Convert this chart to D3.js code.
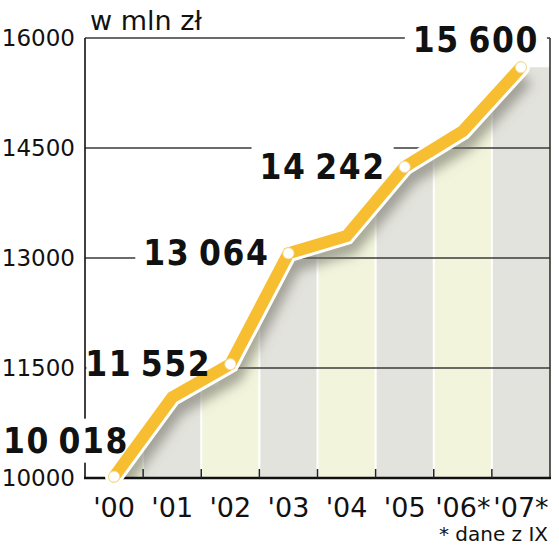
<!DOCTYPE html>
<html><head><meta charset="utf-8">
<script src="https://cdn.jsdelivr.net/npm/d3@7/dist/d3.min.js"></script>
<style>
html,body{margin:0;padding:0;background:#fff;}
svg{display:block;}
</style></head>
<body>
<svg id="chart" width="559" height="549"></svg>
<script>
// ---- data ----
const categories = ["'00", "'01", "'02", "'03", "'04", "'05", "'06*", "'07*"];
const values = [10018, 11100, 11552, 13064, 13300, 14242, 14730, 15600];
const valueLabels = ["10 018", null, "11 552", "13 064", null, "14 242", null, "15 600"];
const yTicks = [10000, 11500, 13000, 14500, 16000];
const unitLabel = "w mln zł";
const footnote = "* dane z IX";

(function () {
// ---- layout ----
const pL = 85, pR = 550, pT = 38, pB = 478;
const YELLOW = "#f7be32";
const bandColors = ["#f2f5dc", "#e3e3dd"];

const svg = d3.select("#chart");
const x = d3.scaleBand().domain(categories).range([pL, pR]).padding(0);
const y = d3.scaleLinear().domain([10000, 16000]).range([pB, pT]);
const cx = c => x(c) + x.bandwidth() / 2;

const data = categories.map((c, i) => ({c, v: values[i], label: valueLabels[i], i}));

const defs = svg.append("defs");
const areaPts = data.map(d => [cx(d.c), y(d.v)]);
areaPts.push([pR, y(values[values.length - 1])]);
const area = d3.area().x(p => p[0]).y0(y(10000)).y1(p => p[1]);
defs.append("clipPath").attr("id", "areaClip").append("path").attr("d", area(areaPts));
const blur = defs.append("filter").attr("id", "blur").attr("x", "-20%").attr("y", "-20%").attr("width", "140%").attr("height", "140%");
blur.append("feGaussianBlur").attr("stdDeviation", 6);

// bands inside area
const bands = svg.append("g").attr("clip-path", "url(#areaClip)");
bands.selectAll("rect").data(categories).join("rect")
  .attr("x", c => x(c)).attr("y", pT).attr("width", x.bandwidth()).attr("height", pB - pT)
  .attr("fill", (c, i) => bandColors[i % 2]);
bands.selectAll("line").data(categories.slice(1)).join("line")
  .attr("x1", c => x(c)).attr("x2", c => x(c)).attr("y1", pT).attr("y2", pB)
  .attr("stroke", "#fff").attr("stroke-width", 2);

// gridlines
svg.append("g").selectAll("line").data(yTicks.slice(1)).join("line")
  .attr("x1", pL).attr("x2", pR).attr("y1", d => y(d)).attr("y2", d => y(d))
  .attr("stroke", "#3a3a3a").attr("stroke-width", 1.5);

// y axis line & right border
svg.append("line").attr("x1", pL).attr("x2", pL).attr("y1", pT).attr("y2", pB)
  .attr("stroke", "#111").attr("stroke-width", 1.6);
svg.append("line").attr("x1", pR).attr("x2", pR).attr("y1", pT).attr("y2", pB)
  .attr("stroke", "#333").attr("stroke-width", 1.6);

const knock = svg.append("g");
const lineG = svg.append("g");
const ax = svg.append("g");
const ptG = svg.append("g");
const labG = svg.append("g");
const lastI = data.length - 1;
const labels = labG.selectAll("text").data(data.filter(d => d.label)).join("text")
  .attr("text-anchor", "end")
  .attr("x", d => d.i === 0 ? cx(d.c) + 15 : d.i === lastI ? cx(d.c) + 18 : cx(d.c) - 19)
  .attr("y", d => d.i === 0 ? y(d.v) - 24 : d.i === lastI ? y(d.v) - 15 : y(d.v) + 12)
  .attr("font-family", "'DejaVu Sans Condensed', 'DejaVu Sans', sans-serif")
  .attr("font-weight", "bold").attr("font-size", 35).attr("fill", "#111")
  .attr("word-spacing", -4).attr("letter-spacing", 1.6)
  .text(d => d.label);
labels.each(function () {
  const b = this.getBBox();
  const padX = 8, padY = 2;
  let lx = b.x - padX;
  if (b.x > pL) lx = Math.max(lx, pL + 1.5);
  knock.append("rect").attr("x", lx).attr("y", b.y - padY)
    .attr("width", b.x + b.width + padX - lx).attr("height", b.height + padY * 2).attr("fill", "#fff");
});

// line shadow
const line = d3.line().x(d => cx(d.c)).y(d => y(d.v));
lineG.append("g").attr("clip-path", "url(#areaClip)")
  .append("path").attr("d", line(data)).attr("fill", "none")
  .attr("stroke", "#6f6f66").attr("stroke-opacity", 0.6).attr("stroke-width", 18)
  .attr("transform", "translate(4,10)").attr("filter", "url(#blur)");

// bottom axis
ax.append("line").attr("x1", pL - 1).attr("x2", pR + 1).attr("y1", pB).attr("y2", pB)
  .attr("stroke", "#111").attr("stroke-width", 2.6);
ax.selectAll("line.tick").data(categories.slice(1)).join("line").attr("class", "tick")
  .attr("x1", c => x(c)).attr("x2", c => x(c)).attr("y1", pB - 9).attr("y2", pB)
  .attr("stroke", "#222").attr("stroke-width", 1.5);
ax.selectAll("text").data(categories).join("text")
  .attr("x", c => cx(c)).attr("y", pB + 39).attr("text-anchor", "middle")
  .attr("font-family", "'DejaVu Sans', sans-serif").attr("font-size", 27).attr("fill", "#111")
  .text(c => c);

// line halo, yellow line, points
ptG.append("path").attr("d", line(data)).attr("fill", "none")
  .attr("stroke", "#fff").attr("stroke-width", 18).attr("stroke-linecap", "round").attr("stroke-linejoin", "miter");
ptG.append("path").attr("d", line(data)).attr("fill", "none")
  .attr("stroke", YELLOW).attr("stroke-width", 12).attr("stroke-linecap", "round").attr("stroke-linejoin", "miter");
ptG.append("g").selectAll("circle").data(data.filter(d => d.label)).join("circle")
  .attr("cx", d => cx(d.c)).attr("cy", d => y(d.v)).attr("r", 5.5)
  .attr("fill", "#fff").attr("stroke", "#f3e2a0").attr("stroke-width", 1);

// y tick labels
svg.append("g").selectAll("text").data(yTicks).join("text")
  .attr("x", 75).attr("y", d => y(d) + 8).attr("text-anchor", "end")
  .attr("font-family", "'DejaVu Sans', sans-serif").attr("font-size", 23).attr("fill", "#111")
  .text(d => d);

// unit & footnote
svg.append("text").attr("x", 90).attr("y", 30)
  .attr("font-family", "'DejaVu Sans', sans-serif").attr("font-size", 27).attr("fill", "#111")
  .text(unitLabel);
svg.append("text").attr("x", 548).attr("y", 541).attr("text-anchor", "end")
  .attr("font-family", "'DejaVu Sans', sans-serif").attr("font-size", 20).attr("fill", "#111")
  .text(footnote);
})();
</script>
</body></html>
